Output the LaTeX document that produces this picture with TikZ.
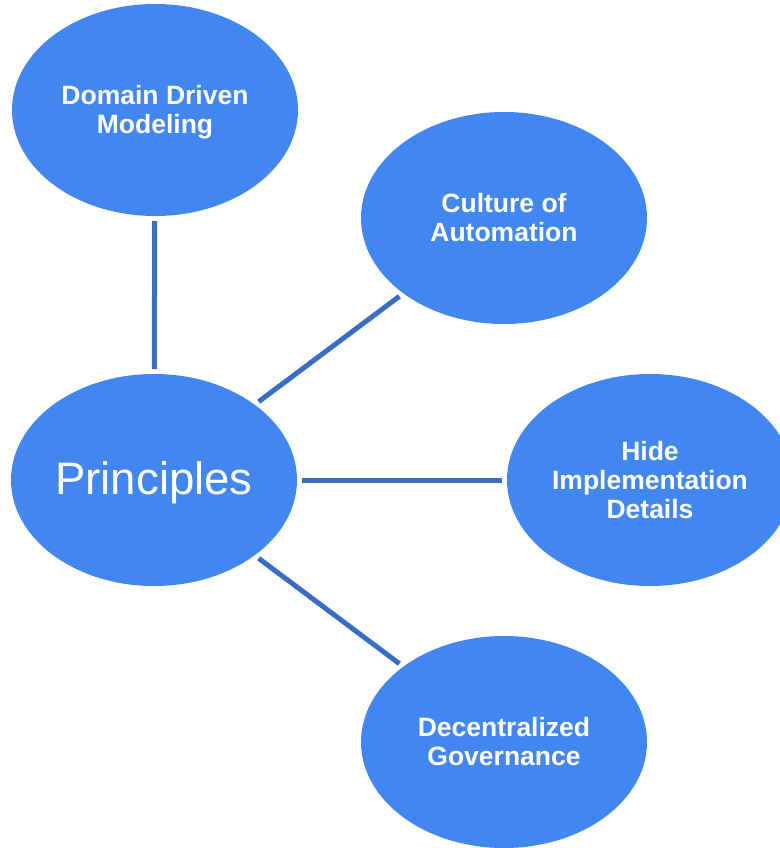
\documentclass[tikz,border=0pt]{standalone}
\usepackage{fontspec}
\setmainfont{Liberation Sans}
\usetikzlibrary{shapes.geometric}
\definecolor{bubble}{HTML}{4286F0}
\definecolor{linkc}{HTML}{3A6EC2}
\newcommand{\lowertxt}[2]{\raisebox{-#1}[\height][\depth]{#2}}
\begin{document}
\begin{tikzpicture}[x=1pt,y=-1pt,
  bubble/.style={ellipse, fill=bubble, minimum width=286pt, minimum height=212pt,
    inner sep=0pt, outer sep=0pt, text=white, align=center,
    font=\fontsize{26.5}{29}\selectfont\bfseries},
  link/.style={draw=linkc, line width=5pt, shorten <=5pt, shorten >=5pt}]
\useasboundingbox (0,0) rectangle (779,848);
\node[bubble] (ddm) at (155,110) {\lowertxt{2pt}{Domain Driven}\\\lowertxt{2pt}{Modeling}};
\node[bubble] (coa) at (504,218) {Culture of\\Automation};
\node[bubble, font=\fontsize{45.5}{50}\selectfont] (pr) at (154,480) {\lowertxt{3pt}{Principles}};
\node[bubble] (hid) at (650,480) {Hide\\Implementation\\Details};
\node[bubble] (dg) at (504,742) {Decentralized\\Governance};
\draw[link] (pr) -- (ddm);
\draw[link] (pr) -- (coa);
\draw[link] (pr) -- (hid);
\draw[link] (pr) -- (dg);
\end{tikzpicture}
\end{document}
